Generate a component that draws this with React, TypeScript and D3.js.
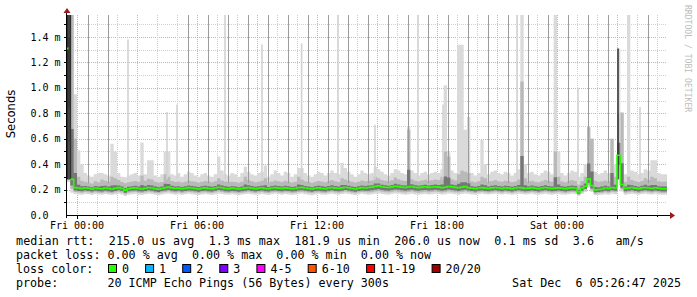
import React from 'react';
import * as d3 from 'd3';

const startTime = new Date(2025, 11, 4, 23, 30, 0);
const endTime = new Date(2025, 11, 6, 5, 30, 0);
const stepMinutes = 10;
const yMaxSeconds = 1.573e-3;

// median rtt per 10-minute sample (microseconds)
const medianUs = [
  1310, 280, 215, 212, 208, 214, 210, 205, 212, 209,
  206, 212, 208, 204, 210, 215, 209, 196, 207, 211,
  213, 208, 205, 210, 216, 212, 207, 203, 209, 214,
  219, 213, 208, 211, 206, 210, 215, 212, 208, 205,
  210, 213, 209, 206, 212, 218, 214, 209, 207, 211,
  208, 204, 209, 213, 216, 211, 207, 210, 214, 209,
  206, 212, 215, 211, 208, 213, 210, 206, 209, 214,
  217, 212, 208, 204, 210, 213, 209, 207, 212, 216,
  211, 208, 213, 218, 214, 209, 205, 210, 215, 212,
  216, 219, 225, 229, 222, 218, 216, 221, 226, 223,
  219, 216, 220, 224, 218, 215, 219, 222, 217, 220,
  222, 219, 215, 218, 224, 221, 217, 214, 219, 223,
  214, 210, 207, 212, 215, 211, 209, 213, 216, 212,
  209, 214, 211, 207, 212, 216, 213, 209, 211, 215,
  210, 207, 212, 216, 212, 208, 211, 214, 210, 207,
  211, 215, 212, 182, 213, 226, 282, 232, 198, 200,
  205, 212, 208, 216, 212, 470, 240, 208, 212, 216,
  211, 207, 213, 216, 212, 209, 214, 210, 207, 206,
];

// fastest ping per sample (microseconds)
const minUs = [
  260, 175, 165, 162, 160, 166, 163, 158, 165, 161,
  160, 166, 161, 157, 163, 168, 162, 150, 160, 164,
  166, 160, 158, 163, 168, 165, 159, 156, 162, 167,
  170, 165, 160, 164, 158, 163, 167, 164, 160, 157,
  162, 165, 161, 158, 164, 170, 166, 161, 159, 163,
  160, 156, 161, 165, 168, 163, 159, 162, 166, 161,
  158, 164, 167, 163, 160, 165, 162, 158, 161, 166,
  169, 164, 160, 156, 162, 165, 161, 159, 164, 168,
  163, 160, 165, 170, 166, 161, 157, 162, 167, 164,
  160, 163, 168, 172, 166, 162, 160, 165, 170, 167,
  163, 160, 164, 168, 162, 159, 163, 166, 161, 164,
  168, 165, 161, 164, 170, 167, 163, 160, 165, 169,
  166, 162, 159, 164, 167, 163, 161, 165, 168, 164,
  161, 166, 163, 159, 164, 168, 165, 161, 163, 167,
  162, 159, 164, 168, 164, 160, 163, 166, 162, 159,
  163, 167, 164, 150, 165, 180, 215, 180, 155, 158,
  160, 164, 160, 168, 164, 300, 185, 160, 164, 168,
  163, 159, 165, 168, 164, 161, 166, 162, 159, 160,
];

// upper body of the smoke (microseconds)
const upperUs = [
  1600, 1600, 600, 300, 270, 262, 255, 248, 266, 258,
  280, 270, 262, 300, 290, 275, 260, 250, 258, 264,
  268, 262, 310, 270, 285, 280, 262, 255, 260, 320,
  300, 268, 260, 264, 256, 262, 270, 266, 262, 255,
  262, 268, 264, 258, 266, 290, 272, 264, 258, 262,
  260, 254, 262, 300, 275, 266, 258, 262, 270, 290,
  256, 264, 272, 266, 260, 270, 262, 256, 262, 300,
  280, 266, 260, 254, 262, 268, 264, 258, 266, 275,
  266, 260, 290, 280, 270, 262, 256, 262, 272, 266,
  268, 272, 300, 290, 276, 270, 266, 274, 295, 282,
  272, 268, 670, 282, 270, 266, 272, 278, 270, 274,
  280, 276, 300, 500, 460, 282, 272, 320, 350, 340,
  330, 264, 258, 266, 300, 290, 262, 268, 275, 266,
  262, 270, 266, 258, 264, 280, 1050, 290, 264, 270,
  262, 258, 266, 275, 268, 262, 500, 300, 264, 258,
  266, 275, 268, 240, 268, 300, 690, 600, 270, 262,
  266, 272, 264, 600, 300, 800, 800, 262, 300, 275,
  266, 260, 268, 290, 275, 300, 290, 266, 262, 264,
];

// slowest ping per sample (microseconds)
const maxUs = [
  1600, 1600, 950, 510, 400, 330, 310, 300, 320, 330,
  330, 320, 310, 560, 500, 330, 300, 295, 310, 320,
  330, 310, 570, 320, 430, 430, 310, 300, 320, 500,
  500, 320, 310, 330, 300, 320, 340, 330, 310, 300,
  320, 330, 310, 300, 320, 460, 350, 320, 310, 330,
  320, 300, 330, 380, 340, 320, 310, 330, 340, 390,
  300, 320, 350, 330, 310, 340, 330, 300, 320, 370,
  370, 330, 310, 300, 320, 340, 330, 310, 330, 350,
  330, 320, 410, 370, 340, 320, 300, 320, 350, 330,
  320, 330, 380, 360, 340, 320, 310, 330, 360, 350,
  330, 320, 700, 350, 330, 310, 330, 340, 320, 330,
  340, 330, 360, 1020, 500, 350, 330, 1340, 1340, 670,
  770, 330, 310, 330, 590, 400, 320, 340, 350, 330,
  320, 340, 330, 310, 330, 360, 1600, 400, 330, 340,
  320, 310, 330, 350, 340, 320, 1600, 500, 330, 310,
  330, 350, 340, 300, 330, 400, 690, 600, 340, 320,
  330, 350, 330, 600, 400, 1310, 810, 320, 1600, 350,
  340, 320, 330, 360, 350, 430, 430, 330, 320, 320,
];

// hours after start of the off-scale hourly outliers
const hourlyOutlierHours = [
  1.05, 2.05, 6.05, 7.05, 8.05, 9.05, 10.05, 11.05, 12.05, 13.05,
  14.05, 15.05, 16.05, 17.05, 18.05, 19.05, 20.05, 21.05, 22.05, 23.05,
  24.05, 25.05, 26.05, 27.05, 29.05,
];

// single slow pings (hours after start, top in ms)
const lightSpikeHours = [3.05, 5.0, 5.5, 7.9, 9.75, 11.73, 13.55, 15.4, 17.55, 18.8, 22.5, 25.55, 27.65, 28.65];
const lightSpikeTopsMs = [1.38, 0.81, 0.87, 1.7, 1.34, 1.35, 1.7, 0.71, 1.7, 0.87, 1.7, 1.0, 0.81, 0.85];

const darkSpikeHours = [0.03, 0.1, 0.17, 27.55];
const darkSpikeTopsMs = [1.7, 1.7, 1.7, 1.31];

const yTickMs = [0, 0.2, 0.4, 0.6, 0.8, 1.0, 1.2, 1.4];
const yGridMs = [0.1, 0.2, 0.3, 0.4, 0.5, 0.6, 0.7, 0.8, 0.9, 1.0, 1.1, 1.2, 1.3, 1.4, 1.5];

const statsLine = 'median rtt:  215.0 us avg  1.3 ms max  181.9 us min  206.0 us now  0.1 ms sd  3.6   am/s';
const lossLine = 'packet loss: 0.00 % avg  0.00 % max  0.00 % min  0.00 % now';
const lossColorTitle = 'loss color:';
const lossLabels = ['0', '1', '2', '3', '4-5', '6-10', '11-19', '20/20'];
const lossColors = ['#26ff00', '#00b8ff', '#0059ff', '#7e00ff', '#ff00ff', '#ff5500', '#ff0000', '#a10000'];
const probeLine = 'probe:       20 ICMP Echo Pings (56 Bytes) every 300s';
const stampText = 'Sat Dec  6 05:26:47 2025';
const watermark = 'RRDTOOL / TOBI OETIKER';

const MONO = '"DejaVu Sans Mono", "Liberation Mono", monospace';

export default function App() {
  const x = d3.scaleTime().domain([startTime, endTime]).range([67, 667]);
  const y = d3.scaleLinear().domain([0, yMaxSeconds]).range([215, 15]);
  const n = medianUs.length;
  const tAt = (i: number) => new Date(startTime.getTime() + i * stepMinutes * 60000);
  const hAt = (h: number) => new Date(startTime.getTime() + h * 3600000);
  const idx = d3.range(n + 1);
  const g = (arr: number[], i: number) => arr[Math.min(i, n - 1)] * 1e-6;

  const band = (lo: (i: number) => number, hi: (i: number) => number) =>
    d3.area<number>()
      .x((i) => x(tAt(i)))
      .y0((i) => y(lo(i)))
      .y1((i) => y(hi(i)))
      .curve(d3.curveStepAfter)(idx) || '';

  const lightPath = band((i) => g(minUs, i), (i) => g(maxUs, i));
  const midPath = band(
    (i) => g(minUs, i) + (g(medianUs, i) - g(minUs, i)) * 0.3,
    (i) => g(upperUs, i)
  );
  const darkPath = band(
    (i) => g(medianUs, i) - (g(medianUs, i) - g(minUs, i)) * 0.45,
    (i) => g(medianUs, i) + (g(upperUs, i) - g(medianUs, i)) * 0.3
  );
  const medianPath = d3.line<number>()
    .x((i) => x(tAt(i)))
    .y((i) => y(g(medianUs, i)))
    .curve(d3.curveStepAfter)(idx.slice(1)) || '';
  const firstMedian = { x1: x(tAt(0)), y: y(g(medianUs, 0)) };

  const hourTicks = d3.timeHour.every(1)!.range(startTime, endTime);
  const labelTicks = d3.timeHour.every(6)!.range(startTime, endTime);
  const fmt = d3.timeFormat('%a %H:%M');
  const crisp = (v: number) => Math.round(v) + 0.5;

  let legendX = 108;
  const legendItems = lossLabels.map((lab, i) => {
    const item = { lab, color: lossColors[i], x: legendX };
    legendX += 30 + lab.length * 7.1;
    return item;
  });

  return (
    <svg width={697} height={297} style={{ position: 'absolute', left: 0, top: 0, background: '#fff' }}>
      <defs>
        <clipPath id="plotClip">
          <rect x={67} y={15} width={600} height={200} />
        </clipPath>
      </defs>
      <rect x={0} y={0} width={697} height={297} fill="#ffffff" />

      {/* grid */}
      <g shapeRendering="crispEdges">
        {yGridMs.map((v, k) => (
          <line key={'hy' + k} x1={67} x2={667} y1={crisp(y(v * 1e-3))} y2={crisp(y(v * 1e-3))}
            stroke={Math.round(v * 10) % 2 === 0 ? '#eba3a3' : '#cfcfcf'} strokeWidth={1} strokeDasharray="1,1" />
        ))}
        {hourTicks.map((t, k) => (
          <line key={'vx' + k} x1={crisp(x(t))} x2={crisp(x(t))} y1={15} y2={215}
            stroke={t.getHours() % 3 === 0 ? '#eba3a3' : '#cfcfcf'} strokeWidth={1} strokeDasharray="1,1" />
        ))}
      </g>

      {/* smoke */}
      <g clipPath="url(#plotClip)">
        <path d={lightPath} fill="#dadada" />
        <path d={midPath} fill="#b9b9b9" />
        {hourlyOutlierHours.map((h, k) => (
          <line key={'ho' + k} x1={crisp(x(hAt(h)))} x2={crisp(x(hAt(h)))} y1={y(0.25e-3)} y2={0}
            stroke="#9c9c9c" strokeWidth={1} />
        ))}
        {lightSpikeHours.map((h, k) => (
          <line key={'ls' + k} x1={x(hAt(h))} x2={x(hAt(h))} y1={y(0.28e-3)} y2={y(lightSpikeTopsMs[k] * 1e-3)}
            stroke="#d2d2d2" strokeWidth={1.6} />
        ))}
        <path d={darkPath} fill="#767676" />
        {darkSpikeHours.map((h, k) => (
          <line key={'ds' + k} x1={x(hAt(h))} x2={x(hAt(h))} y1={y(0.28e-3)} y2={y(darkSpikeTopsMs[k] * 1e-3)}
            stroke="#2e2e2e" strokeWidth={1.5} />
        ))}
        <line x1={firstMedian.x1} x2={firstMedian.x1 + 1.5} y1={firstMedian.y} y2={firstMedian.y} stroke="#26ff00" strokeWidth={2} />
        <path d={medianPath} fill="none" stroke="#26ff00" strokeWidth={1.6} />
      </g>

      {/* axes */}
      <g shapeRendering="crispEdges">
        <line x1={67} x2={670} y1={215.5} y2={215.5} stroke="#000" />
        <line x1={66.5} x2={66.5} y1={12} y2={218} stroke="#000" />
        {yGridMs.map((v, k) => (
          <line key={'yt' + k} x1={64} x2={67} y1={crisp(y(v * 1e-3))} y2={crisp(y(v * 1e-3))} stroke="#000" />
        ))}
        {hourTicks.map((t, k) => (
          <line key={'xt' + k} x1={crisp(x(t))} x2={crisp(x(t))} y1={215} y2={t.getHours() % 3 === 0 ? 219 : 217} stroke="#000" />
        ))}
      </g>
      <path d="M67,8 L63.5,13 L70.5,13 Z" fill="#9b1a1a" />
      <path d="M675,215.5 L670,212 L670,219 Z" fill="#9b1a1a" />

      {/* tick labels */}
      <g fontFamily={MONO} fontSize={10} fill="#000">
        {yTickMs.map((v, k) => (
          <text key={'yl' + k} x={30.5} y={y(v * 1e-3) + 3.6} xmlSpace="preserve">
            {v === 0 ? '0.0' : v.toFixed(1) + ' m'}
          </text>
        ))}
        {labelTicks.map((t, k) => (
          <text key={'xl' + k} x={x(t)} y={228.5} textAnchor="middle">{fmt(t)}</text>
        ))}
      </g>

      <text transform="translate(14.5,114) rotate(-90)" textAnchor="middle"
        fontFamily='"DejaVu Sans", sans-serif' fontSize={11.6} fill="#000">Seconds</text>

      <text transform="translate(685,5) rotate(90)" fontFamily={MONO} fontSize={8.1} fill="#bdbdbd">{watermark}</text>

      {/* legend */}
      <g fontFamily={MONO} fontSize={11.7} fill="#000">
        <text x={16} y={245} xmlSpace="preserve" letterSpacing={0.1} style={{ whiteSpace: 'pre' }}>{statsLine}</text>
        <text x={16} y={259} xmlSpace="preserve" style={{ whiteSpace: 'pre' }}>{lossLine}</text>
        <text x={16} y={273} xmlSpace="preserve" style={{ whiteSpace: 'pre' }}>{lossColorTitle}</text>
        {legendItems.map((it, k) => (
          <g key={'lg' + k}>
            <rect x={it.x + 0.5} y={264.5} width={8} height={8} fill={it.color} stroke="#000" strokeWidth={1} />
            <text x={it.x + 14} y={273}>{it.lab}</text>
          </g>
        ))}
        <text x={16} y={287} xmlSpace="preserve" style={{ whiteSpace: 'pre' }}>{probeLine}</text>
        <text x={681} y={287} textAnchor="end" xmlSpace="preserve" style={{ whiteSpace: 'pre' }}>{stampText}</text>
      </g>
    </svg>
  );
}
